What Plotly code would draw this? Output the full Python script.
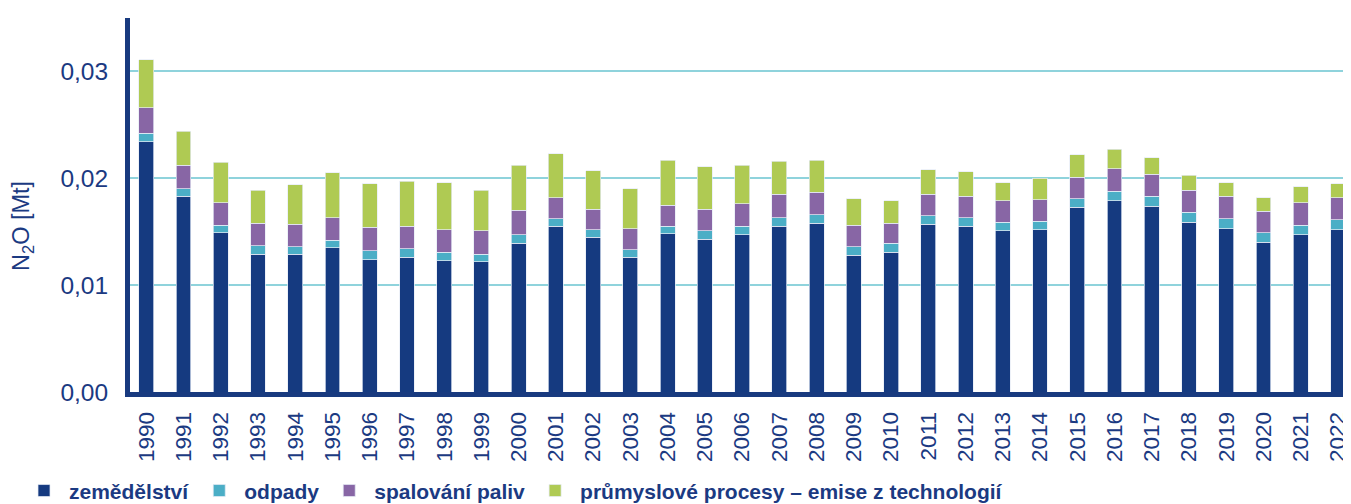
import plotly.graph_objects as go

years = [str(y) for y in range(1990, 2023)]

# N2O emise [Mt] podle sektoru
zemedelstvi = [
    0.0234, 0.0183, 0.0149, 0.0129, 0.0129, 0.0135, 0.0124, 0.0126, 0.0123, 0.0122,
    0.0139, 0.0155, 0.0145, 0.0126, 0.0148, 0.0143, 0.0147, 0.0155, 0.0158, 0.0128,
    0.0131, 0.0157, 0.0155, 0.0151, 0.0152, 0.0173, 0.0179, 0.0174, 0.0159, 0.0153,
    0.0140, 0.0147, 0.0152,
]
odpady = [
    0.0008, 0.0007, 0.0007, 0.0008, 0.0007, 0.0007, 0.0008, 0.0008, 0.0008, 0.0007,
    0.0008, 0.0007, 0.0007, 0.0007, 0.0007, 0.0008, 0.0008, 0.0008, 0.0008, 0.0008,
    0.0008, 0.0008, 0.0008, 0.0008, 0.0008, 0.0008, 0.0009, 0.0009, 0.0009, 0.0009,
    0.0009, 0.0009, 0.0009,
]
spalovani = [
    0.0024, 0.0022, 0.0021, 0.0021, 0.0021, 0.0021, 0.0022, 0.0021, 0.0021, 0.0022,
    0.0023, 0.0020, 0.0019, 0.0020, 0.0020, 0.0020, 0.0021, 0.0022, 0.0021, 0.0020,
    0.0019, 0.0020, 0.0020, 0.0020, 0.0020, 0.0020, 0.0021, 0.0021, 0.0021, 0.0021,
    0.0020, 0.0021, 0.0021,
]
prumysl = [
    0.0045, 0.0032, 0.0038, 0.0031, 0.0037, 0.0042, 0.0041, 0.0042, 0.0044, 0.0038,
    0.0042, 0.0041, 0.0036, 0.0037, 0.0042, 0.0040, 0.0036, 0.0031, 0.0030, 0.0025,
    0.0021, 0.0023, 0.0023, 0.0017, 0.0020, 0.0021, 0.0018, 0.0015, 0.0014, 0.0013,
    0.0013, 0.0015, 0.0013,
]

TEXT = "#1b3a82"
FONT = "Liberation Sans, Arial, sans-serif"

series = [
    ("zemědělství", zemedelstvi, "#153a80"),
    ("odpady", odpady, "#4baec6"),
    ("spalování paliv", spalovani, "#8866a5"),
    ("průmyslové procesy – emise z technologií", prumysl, "#afca53"),
]

fig = go.Figure()
for name, values, color in series:
    fig.add_trace(
        go.Bar(
            x=years,
            y=values,
            name=name,
            marker=dict(color=color, line=dict(color="rgba(230,235,245,0.9)", width=0.8)),
        )
    )

fig.add_annotation(
    text="N<sub>2</sub>O [Mt]",
    x=-0.0876,
    y=0.444,
    xref="paper",
    yref="paper",
    xanchor="center",
    yanchor="middle",
    textangle=-90,
    showarrow=False,
    font=dict(size=23.5, color=TEXT, family=FONT),
)

fig.update_xaxes(
    type="category",
    range=[-0.437, 32.35],
    tickangle=-90,
    tickfont=dict(size=22.5, color=TEXT, family=FONT),
    showline=True,
    linecolor="#183a7f",
    linewidth=5,
    ticks="",
    ticklabelstandoff=6,
    showgrid=False,
)
fig.update_yaxes(
    range=[0, 0.035],
    dtick=0.01,
    tickformat=".2f",
    tickfont=dict(size=24.5, color=TEXT, family=FONT),
    showline=True,
    linecolor="#183a7f",
    linewidth=5,
    showgrid=True,
    gridcolor="#8fd3dc",
    gridwidth=2,
    zeroline=False,
    ticks="",
    ticklabelstandoff=12,
)
# the page adds an 8px body margin, so the figure is 8px smaller on each side
fig.update_layout(
    barmode="stack",
    bargap=0.6,
    width=1343,
    height=496,
    separators=",.",
    plot_bgcolor="white",
    paper_bgcolor="white",
    margin=dict(l=122, r=0, t=9.5, b=112, autoexpand=False),
    font=dict(family=FONT, color=TEXT),
    legend=dict(
        orientation="h",
        x=-0.0909,
        xanchor="left",
        y=-0.2644,
        yanchor="middle",
        itemwidth=40,
        font=dict(size=21, color=TEXT, family=FONT, weight="bold"),
        traceorder="normal",
    ),
)

fig.write_html("out.html")
